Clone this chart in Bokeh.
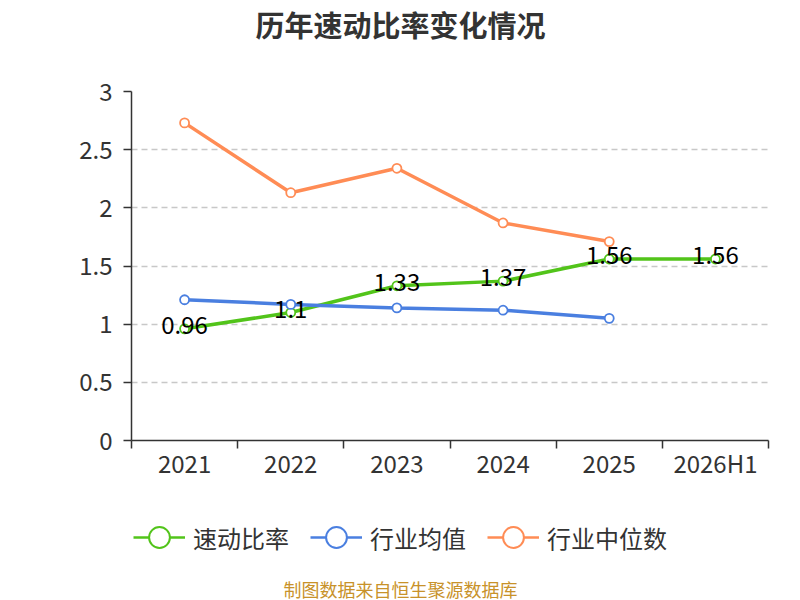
from bokeh.plotting import figure
from bokeh.layouts import column
from bokeh.models import FixedTicker, Legend, LegendItem, Label, ColumnDataSource, NumeralTickFormatter, Range1d
from bokeh.embed import file_html
from bokeh.resources import INLINE
from bokeh.core.properties import value

years = ["2021", "2022", "2023", "2024", "2025", "2026H1"]
quick_ratio = [0.96, 1.10, 1.33, 1.37, 1.56, 1.56]
industry_avg = [1.21, 1.17, 1.14, 1.12, 1.05]
industry_median = [2.73, 2.13, 2.34, 1.87, 1.71]
series_names = ["速动比率", "行业均值", "行业中位数"]
title_text = "历年速动比率变化情况"
source_text = "制图数据来自恒生聚源数据库"

FONT = "Noto Sans CJK SC"
GREEN = "#52c41a"
BLUE = "#4a7fe0"
ORANGE = "#ff8c55"
COLORS = [GREEN, BLUE, ORANGE]

W = 800
LEFT, RIGHT = 131, 32
FRAME_W = W - LEFT - RIGHT
TITLE_H, MAIN_H, FOOT_H = 46, 454, 100
NAN = float("nan")


def strip_figure(h):
    f = figure(width=W, height=h, output_backend="svg", toolbar_location=None,
               x_axis_location=None, y_axis_location=None,
               x_range=Range1d(0, FRAME_W), y_range=Range1d(0, h))
    f.min_border_left = LEFT
    f.min_border_right = RIGHT
    f.min_border_top = 0
    f.min_border_bottom = 0
    f.outline_line_color = None
    f.grid.grid_line_color = None
    return f


# ---- title strip ----
pt = strip_figure(TITLE_H)
pt.add_layout(Label(x=W / 2 - LEFT, y=TITLE_H - 23, x_units="screen", y_units="screen", text=title_text,
                    text_font=FONT, text_font_size="29px", text_font_style="bold",
                    text_color="#333333", text_align="center", text_baseline="middle"))

# ---- main chart ----
xs = [i + 0.5 for i in range(len(years))]

p = figure(width=W, height=MAIN_H, output_backend="svg", toolbar_location=None,
           x_range=Range1d(0, len(years)), y_range=Range1d(0, 3))
p.min_border_left = LEFT
p.min_border_right = RIGHT
p.min_border_top = 45
p.min_border_bottom = 60
p.outline_line_color = None

p.xaxis.ticker = FixedTicker(ticks=xs, minor_ticks=list(range(len(years) + 1)))
p.xaxis.major_label_overrides = {x: y for x, y in zip(xs, years)}
p.xaxis.major_tick_line_color = None
p.xaxis.major_tick_out = 0
p.xaxis.major_tick_in = 0
p.xaxis.minor_tick_line_color = "#333333"
p.xaxis.minor_tick_out = 8
p.xaxis.minor_tick_in = 0
p.xaxis.minor_tick_line_width = 1.5
p.xaxis.axis_line_color = "#333333"
p.xaxis.axis_line_width = 1.5
p.xaxis.major_label_text_font = FONT
p.xaxis.major_label_text_font_size = "24px"
p.xaxis.major_label_text_color = "#333333"
p.xaxis.major_label_standoff = -4

p.yaxis.ticker = FixedTicker(ticks=[0, 0.5, 1, 1.5, 2, 2.5, 3], minor_ticks=[])
p.yaxis.formatter = NumeralTickFormatter(format="0.[0]")
p.yaxis.axis_line_color = "#333333"
p.yaxis.axis_line_width = 1.5
p.yaxis.major_tick_line_color = "#333333"
p.yaxis.major_tick_line_width = 1.5
p.yaxis.major_tick_out = 8
p.yaxis.major_tick_in = 0
p.yaxis.major_label_text_font = FONT
p.yaxis.major_label_text_font_size = "24px"
p.yaxis.major_label_text_color = "#333333"
p.yaxis.major_label_standoff = 11

p.xgrid.grid_line_color = None
p.ygrid.ticker = FixedTicker(ticks=[0.5, 1, 1.5, 2, 2.5, 3])
p.ygrid.grid_line_color = "#c8c8c8"
p.ygrid.grid_line_dash = "6 4"
p.ygrid.grid_line_width = 1.5

series = [quick_ratio, industry_avg, industry_median]
for vals, col in zip(series, COLORS):
    src = ColumnDataSource(dict(x=xs[:len(vals)], y=vals))
    p.line("x", "y", source=src, line_color=col, line_width=3.5)
    p.scatter("x", "y", source=src, size=9, fill_color="white", line_color=col, line_width=1.8)

src_lbl = ColumnDataSource(dict(x=xs, y=quick_ratio, t=[f"{v:g}" for v in quick_ratio]))
p.text("x", "y", text="t", source=src_lbl, text_font=value(FONT), text_font_size="24px",
       text_color="black", text_align="center", text_baseline="middle", y_offset=-4)

# ---- legend + source strip ----
pf = strip_figure(FOOT_H)
items = []
for name, col in zip(series_names, COLORS):
    rl = pf.line(x=[NAN], y=[NAN], line_color=col, line_width=2.5)
    rs = pf.scatter(x=[NAN], y=[NAN], size=10, fill_color="white", line_color=col, line_width=2)
    items.append(LegendItem(label=name, renderers=[rl, rs]))

legend = Legend(items=items, orientation="horizontal", location=(2, FOOT_H - 37 - 28))
legend.label_text_font = FONT
legend.label_text_font_size = "24px"
legend.label_text_color = "#333333"
legend.glyph_width = 52
legend.glyph_height = 56
legend.label_standoff = 8
legend.spacing = 21
legend.padding = 0
legend.margin = 0
legend.border_line_color = None
legend.background_fill_alpha = 0
pf.add_layout(legend)

pf.add_layout(Label(x=W / 2 - LEFT, y=FOOT_H - 88, x_units="screen", y_units="screen", text=source_text,
                    text_font=FONT, text_font_size="18px",
                    text_color="#c8922a", text_align="center", text_baseline="middle"))

layout = column(pt, p, pf, spacing=0)
open("out.html", "w").write(file_html(layout, INLINE))
